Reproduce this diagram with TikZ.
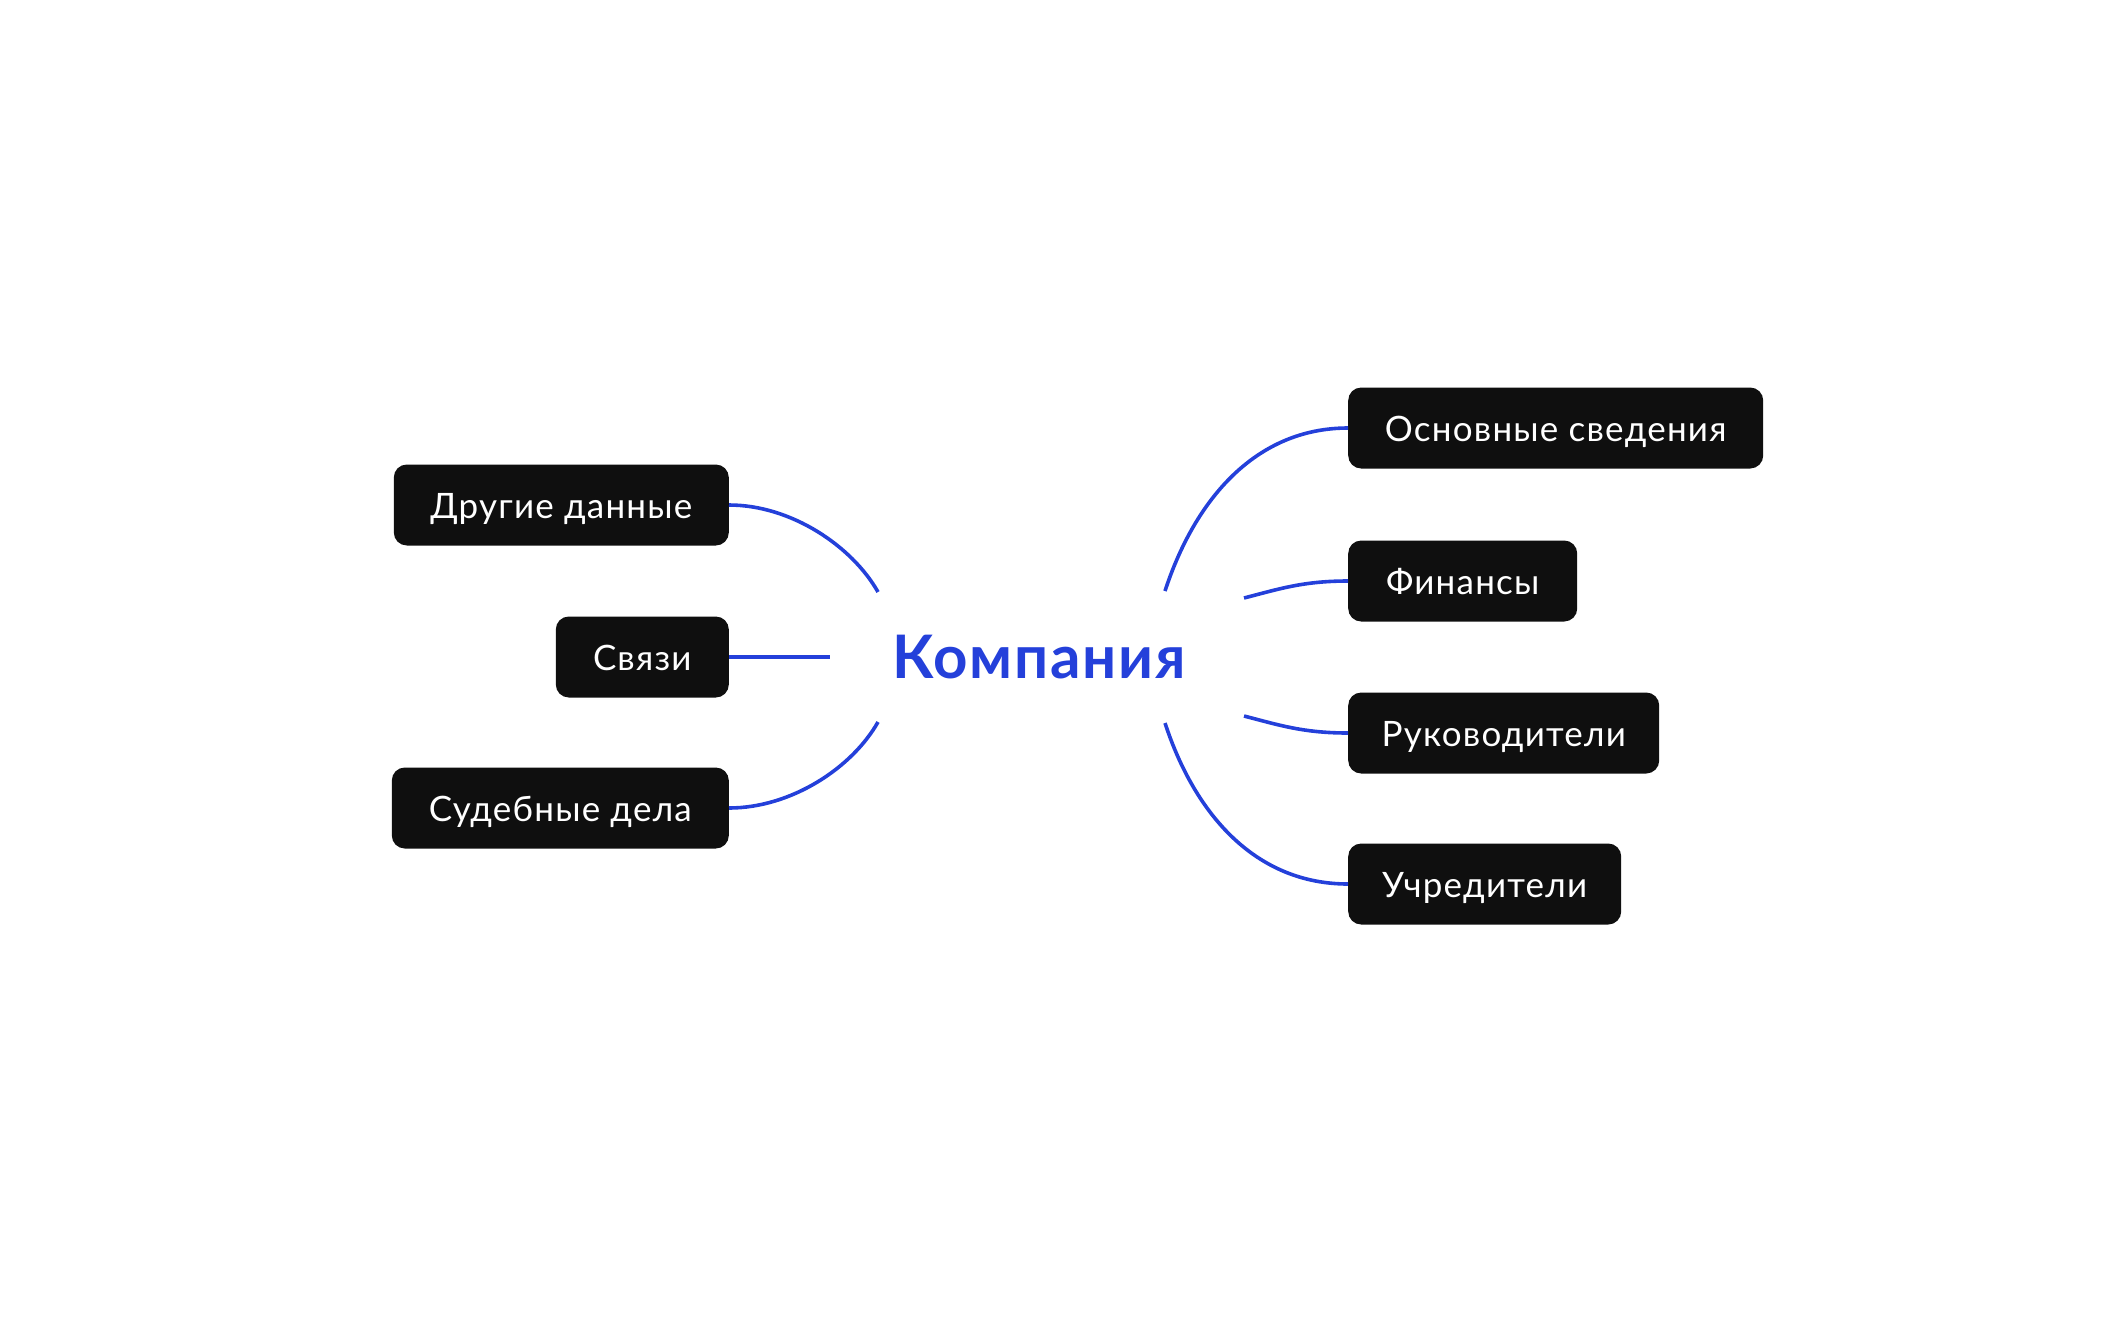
\documentclass[tikz,border=0pt]{standalone}
\usepackage{fontspec}
\setmainfont{Lato}
\newfontfamily\topicfont[LetterSpace=3.5]{Lato}
\newfontfamily\hubfont[LetterSpace=3]{Lato}
\definecolor{boxfill}{HTML}{0F0F0F}
\definecolor{linkblue}{HTML}{2440DA}
\begin{document}
\begin{tikzpicture}[x=1pt,y=-1pt,
  topic/.style={rectangle, rounded corners=13pt, fill=boxfill, text=white,
    minimum height=81pt, inner xsep=0pt, inner ysep=0pt,
    text height=27pt, text depth=0pt,
    font=\topicfont\fontsize{35}{40}\selectfont},
  link/.style={draw=linkblue, line width=3.6pt},
  hub/.style={text=linkblue, font=\hubfont\fontsize{60}{66}\selectfont\bfseries, inner sep=0pt}
]
\useasboundingbox (0,0) rectangle (2110,1342);
% hub
\node[hub, anchor=base] (hub) at (1039,678) {Компания};
% left topics
\node[topic, anchor=east, minimum width=335pt] (other) at (729,505) {Другие данные};
\node[topic, anchor=east, minimum width=173pt] (links) at (729,657) {Связи};
\node[topic, anchor=east, minimum width=337pt] (court) at (729,808) {Судебные дела};
% right topics
\node[topic, anchor=west, minimum width=415pt] (basic) at (1348,428) {Основные сведения};
\node[topic, anchor=west, minimum width=229pt] (fin) at (1348,581) {Финансы};
\node[topic, anchor=west, minimum width=311pt] (heads) at (1348,733) {Руководители};
\node[topic, anchor=west, minimum width=273pt] (found) at (1348,884) {Учредители};
% free ends near hub
\coordinate (eUL) at (878,592);
\coordinate (eL) at (830,657);
\coordinate (eLL) at (878,722);
\coordinate (eUR) at (1165,591);
\coordinate (eFR) at (1244,598);
\coordinate (eHR) at (1244,716);
\coordinate (eLR) at (1165,723);
% connectors
\draw[link] (other.east) .. controls +(62,0) and +(-26,-46) .. (eUL);
\draw[link] (links.east) -- (eL);
\draw[link] (court.east) .. controls +(62,0) and +(-26,46) .. (eLL);
\draw[link] (basic.west) .. controls +(-92,0) and +(30,-92) .. (eUR);
\draw[link] (fin.west) .. controls +(-45,0) and +(35,-9) .. (eFR);
\draw[link] (heads.west) .. controls +(-45,0) and +(35,9) .. (eHR);
\draw[link] (found.west) .. controls +(-92,0) and +(30,92) .. (eLR);
\end{tikzpicture}
\end{document}
